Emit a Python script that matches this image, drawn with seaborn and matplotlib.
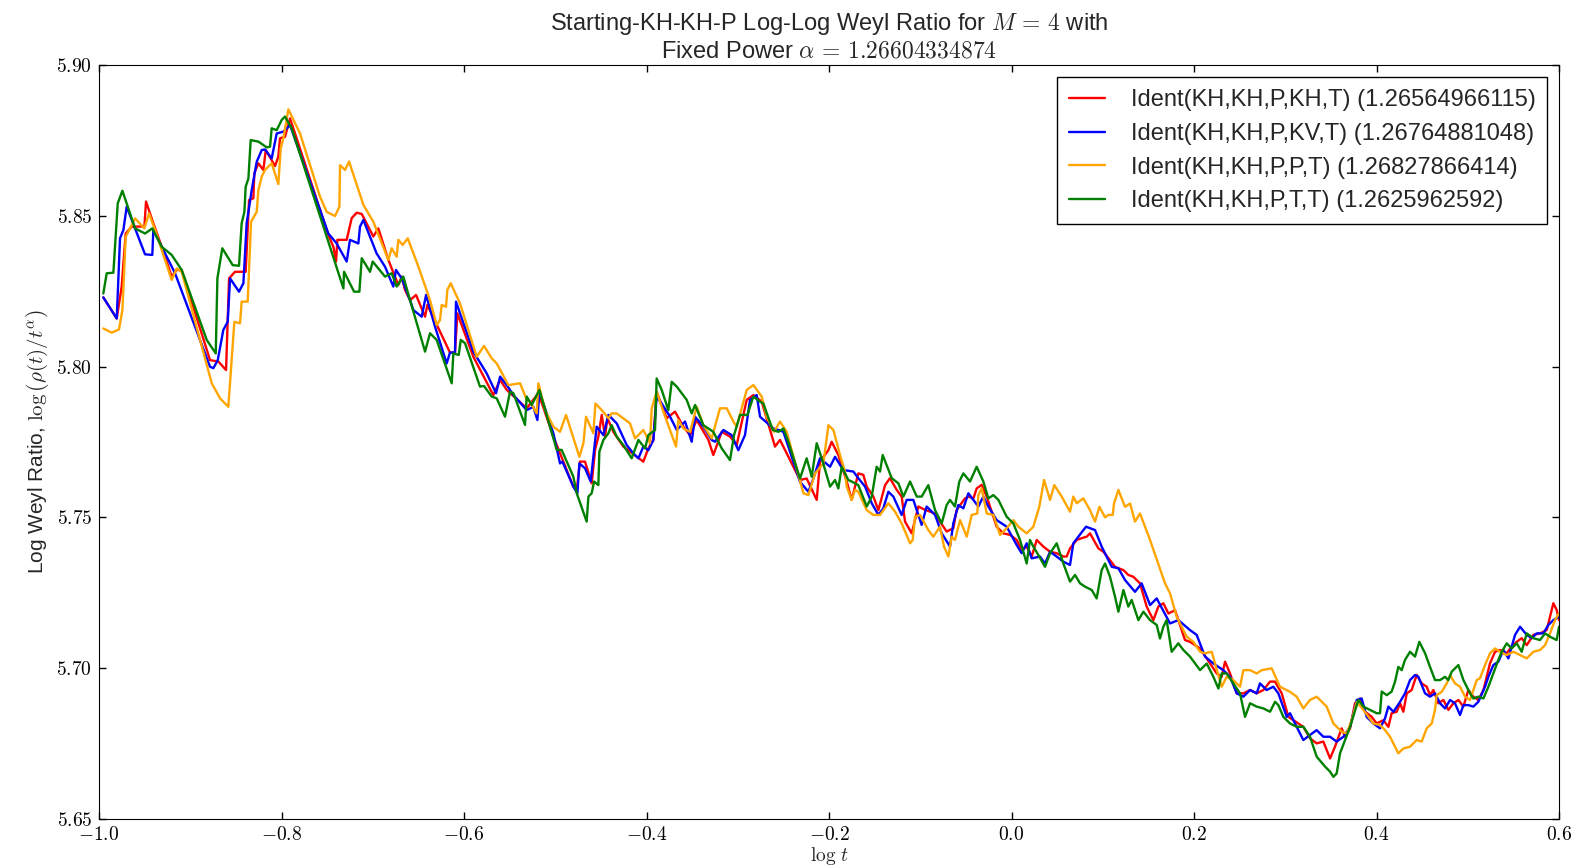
import pandas as pd
import seaborn as sns
import matplotlib.pyplot as plt
from matplotlib.ticker import FuncFormatter, MultipleLocator

# (log t, log weyl ratio), one list per identification
red_pts = [
    (-0.9953, 5.8230), (-0.9806, 5.8160), (-0.9752, 5.8266), (-0.9708, 5.8442), (-0.9642, 5.8465),
    (-0.9503, 5.8465), (-0.9485, 5.8548), (-0.9405, 5.8476), (-0.9313, 5.8398), (-0.9204, 5.8299),
    (-0.9149, 5.8321), (-0.9094, 5.8321), (-0.8784, 5.8022), (-0.8692, 5.8017), (-0.8608, 5.7989),
    (-0.8575, 5.8293), (-0.8510, 5.8315), (-0.8393, 5.8315), (-0.8356, 5.8553), (-0.8309, 5.8559),
    (-0.8298, 5.8642), (-0.8254, 5.8675), (-0.8199, 5.8653), (-0.8173, 5.8719), (-0.8071, 5.8666),
    (-0.8035, 5.8697), (-0.8017, 5.8758), (-0.7962, 5.8763), (-0.7907, 5.8824), (-0.7852, 5.8774),
    (-0.7487, 5.8437), (-0.7432, 5.8398), (-0.7403, 5.8349), (-0.7388, 5.8421), (-0.7286, 5.8421),
    (-0.7231, 5.8493), (-0.7176, 5.8511), (-0.7121, 5.8507), (-0.6994, 5.8432), (-0.6939, 5.8459),
    (-0.6829, 5.8354), (-0.6756, 5.8299), (-0.6720, 5.8271), (-0.6683, 5.8299), (-0.6647, 5.8255),
    (-0.6592, 5.8221), (-0.6526, 5.8238), (-0.6427, 5.8166), (-0.6402, 5.8205), (-0.6154, 5.8047),
    (-0.6099, 5.8047), (-0.6073, 5.8177), (-0.5898, 5.8033), (-0.5679, 5.7906), (-0.5605, 5.7956),
    (-0.5532, 5.7923), (-0.5313, 5.7862), (-0.5185, 5.7912), (-0.5021, 5.7768), (-0.4802, 5.7602),
    (-0.4765, 5.7591), (-0.4729, 5.7685), (-0.4674, 5.7685), (-0.4601, 5.7613), (-0.4564, 5.7724),
    (-0.4528, 5.7768), (-0.4491, 5.7840), (-0.4455, 5.7768), (-0.4429, 5.7829), (-0.4364, 5.7784),
    (-0.4254, 5.7735), (-0.4035, 5.7685), (-0.3980, 5.7729), (-0.3925, 5.7757), (-0.3889, 5.7917),
    (-0.3779, 5.7829), (-0.3688, 5.7851), (-0.3596, 5.7801), (-0.3523, 5.7773), (-0.3450, 5.7823),
    (-0.3322, 5.7757), (-0.3268, 5.7707), (-0.3176, 5.7784), (-0.3085, 5.7768), (-0.3012, 5.7740),
    (-0.2902, 5.7890), (-0.2829, 5.7906), (-0.2738, 5.7884), (-0.2592, 5.7735), (-0.2537, 5.7757),
    (-0.2318, 5.7624), (-0.2245, 5.7629), (-0.2135, 5.7558), (-0.2099, 5.7685), (-0.2007, 5.7723),
    (-0.1971, 5.7751), (-0.1898, 5.7707), (-0.1806, 5.7619), (-0.1752, 5.7558), (-0.1679, 5.7646),
    (-0.1624, 5.7641), (-0.1587, 5.7602), (-0.1514, 5.7569), (-0.1459, 5.7524), (-0.1386, 5.7607),
    (-0.1332, 5.7630), (-0.1258, 5.7591), (-0.1204, 5.7569), (-0.1167, 5.7486), (-0.1094, 5.7447),
    (-0.1021, 5.7536), (-0.0948, 5.7525), (-0.0838, 5.7513), (-0.0747, 5.7469), (-0.0711, 5.7453),
    (-0.0638, 5.7464), (-0.0601, 5.7525), (-0.0510, 5.7563), (-0.0473, 5.7569), (-0.0418, 5.7563),
    (-0.0382, 5.7596), (-0.0327, 5.7608), (-0.0272, 5.7569), (-0.0236, 5.7536), (-0.0163, 5.7469),
    (-0.0090, 5.7447), (-0.0016, 5.7442), (0.0057, 5.7425), (0.0111, 5.7392), (0.0166, 5.7403),
    (0.0221, 5.7370), (0.0276, 5.7425), (0.0349, 5.7403), (0.0422, 5.7386), (0.0495, 5.7381),
    (0.0568, 5.7370), (0.0604, 5.7370), (0.0641, 5.7397), (0.0714, 5.7425), (0.0769, 5.7431),
    (0.0824, 5.7436), (0.0860, 5.7447), (0.0952, 5.7397), (0.1006, 5.7386), (0.1079, 5.7358),
    (0.1134, 5.7336), (0.1226, 5.7325), (0.1280, 5.7309), (0.1335, 5.7303), (0.1408, 5.7281),
    (0.1481, 5.7204), (0.1554, 5.7159), (0.1609, 5.7204), (0.1664, 5.7215), (0.1719, 5.7181),
    (0.1792, 5.7192), (0.1901, 5.7093), (0.1956, 5.7087), (0.2066, 5.7065), (0.2139, 5.7032),
    (0.2249, 5.6982), (0.2303, 5.6971), (0.2340, 5.7021), (0.2395, 5.6982), (0.2468, 5.6916),
    (0.2541, 5.6916), (0.2614, 5.6927), (0.2687, 5.6916), (0.2760, 5.6927), (0.2833, 5.6955),
    (0.2888, 5.6955), (0.2961, 5.6916), (0.3034, 5.6838), (0.3089, 5.6827), (0.3198, 5.6805),
    (0.3271, 5.6767), (0.3344, 5.6750), (0.3417, 5.6756), (0.3491, 5.6700), (0.3545, 5.6739),
    (0.3618, 5.6800), (0.3655, 5.6772), (0.3710, 5.6800), (0.3764, 5.6883), (0.3819, 5.6899),
    (0.3874, 5.6855), (0.3947, 5.6838), (0.4002, 5.6816), (0.4075, 5.6827), (0.4130, 5.6805),
    (0.4166, 5.6850), (0.4221, 5.6855), (0.4258, 5.6883), (0.4294, 5.6855), (0.4331, 5.6916),
    (0.4385, 5.6927), (0.4440, 5.6977), (0.4495, 5.6949), (0.4550, 5.6938), (0.4586, 5.6910),
    (0.4623, 5.6927), (0.4678, 5.6883), (0.4733, 5.6894), (0.4787, 5.6861), (0.4842, 5.6883),
    (0.4897, 5.6894), (0.4952, 5.6872), (0.5006, 5.6927), (0.5061, 5.6905), (0.5116, 5.6894),
    (0.5171, 5.6927), (0.5207, 5.6971), (0.5244, 5.7016), (0.5299, 5.7054), (0.5354, 5.7060),
    (0.5427, 5.7049), (0.5481, 5.7071), (0.5536, 5.7087), (0.5591, 5.7099), (0.5646, 5.7076),
    (0.5719, 5.7110), (0.5792, 5.7115), (0.5865, 5.7126), (0.5901, 5.7170), (0.5938, 5.7215),
    (0.5974, 5.7193), (0.6000, 5.7159),
]

blue_pts = [
    (-0.9953, 5.8230), (-0.9806, 5.8160), (-0.9770, 5.8426), (-0.9733, 5.8454), (-0.9697, 5.8531),
    (-0.9496, 5.8373), (-0.9416, 5.8371), (-0.9405, 5.8454), (-0.9313, 5.8398), (-0.9167, 5.8310),
    (-0.8784, 5.8000), (-0.8747, 5.7995), (-0.8699, 5.8022), (-0.8638, 5.8122), (-0.8590, 5.8149),
    (-0.8564, 5.8293), (-0.8466, 5.8249), (-0.8418, 5.8277), (-0.8382, 5.8476), (-0.8327, 5.8586),
    (-0.8272, 5.8680), (-0.8217, 5.8719), (-0.8181, 5.8721), (-0.8108, 5.8691), (-0.8053, 5.8774),
    (-0.7980, 5.8780), (-0.7907, 5.8802), (-0.7487, 5.8442), (-0.7396, 5.8409), (-0.7286, 5.8349),
    (-0.7250, 5.8421), (-0.7158, 5.8409), (-0.7140, 5.8465), (-0.7103, 5.8487), (-0.6958, 5.8376),
    (-0.6866, 5.8332), (-0.6775, 5.8266), (-0.6746, 5.8321), (-0.6683, 5.8293), (-0.6592, 5.8221),
    (-0.6555, 5.8188), (-0.6464, 5.8166), (-0.6416, 5.8238), (-0.6318, 5.8133), (-0.6190, 5.8011),
    (-0.6154, 5.8047), (-0.6099, 5.8047), (-0.6088, 5.8216), (-0.6044, 5.8177), (-0.5898, 5.8050),
    (-0.5752, 5.7978), (-0.5649, 5.7912), (-0.5605, 5.7967), (-0.5532, 5.7939), (-0.5459, 5.7906),
    (-0.5313, 5.7856), (-0.5240, 5.7867), (-0.5196, 5.7823), (-0.5174, 5.7917), (-0.5021, 5.7779),
    (-0.4948, 5.7679), (-0.4922, 5.7685), (-0.4802, 5.7602), (-0.4758, 5.7580), (-0.4736, 5.7679),
    (-0.4674, 5.7663), (-0.4612, 5.7619), (-0.4575, 5.7723), (-0.4546, 5.7801), (-0.4473, 5.7773),
    (-0.4418, 5.7840), (-0.4327, 5.7812), (-0.4217, 5.7740), (-0.4144, 5.7712), (-0.4089, 5.7696),
    (-0.4035, 5.7735), (-0.3980, 5.7723), (-0.3925, 5.7757), (-0.3889, 5.7901), (-0.3834, 5.7878),
    (-0.3742, 5.7834), (-0.3669, 5.7790), (-0.3578, 5.7818), (-0.3505, 5.7751), (-0.3468, 5.7834),
    (-0.3377, 5.7801), (-0.3286, 5.7757), (-0.3249, 5.7751), (-0.3158, 5.7790), (-0.3067, 5.7773),
    (-0.2994, 5.7723), (-0.2921, 5.7773), (-0.2866, 5.7890), (-0.2793, 5.7906), (-0.2756, 5.7834),
    (-0.2610, 5.7795), (-0.2555, 5.7790), (-0.2500, 5.7784), (-0.2318, 5.7618), (-0.2226, 5.7585),
    (-0.2172, 5.7629), (-0.2099, 5.7696), (-0.1989, 5.7668), (-0.1934, 5.7701), (-0.1843, 5.7657),
    (-0.1733, 5.7652), (-0.1679, 5.7630), (-0.1605, 5.7602), (-0.1532, 5.7547), (-0.1459, 5.7508),
    (-0.1405, 5.7530), (-0.1350, 5.7585), (-0.1295, 5.7569), (-0.1204, 5.7508), (-0.1149, 5.7558),
    (-0.1076, 5.7558), (-0.0985, 5.7475), (-0.0930, 5.7536), (-0.0838, 5.7508), (-0.0765, 5.7447),
    (-0.0674, 5.7403), (-0.0638, 5.7480), (-0.0583, 5.7541), (-0.0528, 5.7530), (-0.0473, 5.7580),
    (-0.0418, 5.7558), (-0.0364, 5.7536), (-0.0309, 5.7569), (-0.0254, 5.7536), (-0.0163, 5.7491),
    (-0.0053, 5.7469), (0.0057, 5.7408), (0.0111, 5.7381), (0.0166, 5.7414), (0.0221, 5.7364),
    (0.0312, 5.7370), (0.0367, 5.7347), (0.0422, 5.7386), (0.0495, 5.7370), (0.0568, 5.7353),
    (0.0641, 5.7342), (0.0677, 5.7414), (0.0732, 5.7436), (0.0816, 5.7469), (0.0915, 5.7458),
    (0.0988, 5.7403), (0.1098, 5.7336), (0.1171, 5.7331), (0.1244, 5.7292), (0.1353, 5.7253),
    (0.1426, 5.7281), (0.1518, 5.7209), (0.1591, 5.7231), (0.1737, 5.7148), (0.1828, 5.7159),
    (0.1956, 5.7126), (0.2029, 5.7110), (0.2121, 5.7038), (0.2212, 5.7015), (0.2321, 5.6993),
    (0.2395, 5.6971), (0.2468, 5.6916), (0.2541, 5.6905), (0.2614, 5.6927), (0.2687, 5.6916),
    (0.2723, 5.6949), (0.2796, 5.6927), (0.2869, 5.6938), (0.2924, 5.6916), (0.3016, 5.6838),
    (0.3052, 5.6850), (0.3125, 5.6805), (0.3198, 5.6761), (0.3271, 5.6778), (0.3344, 5.6794),
    (0.3417, 5.6772), (0.3491, 5.6772), (0.3563, 5.6756), (0.3637, 5.6772), (0.3710, 5.6805),
    (0.3783, 5.6894), (0.3837, 5.6899), (0.3892, 5.6838), (0.3965, 5.6816), (0.4038, 5.6800),
    (0.4093, 5.6833), (0.4130, 5.6872), (0.4185, 5.6855), (0.4258, 5.6888), (0.4312, 5.6916),
    (0.4367, 5.6960), (0.4422, 5.6977), (0.4459, 5.6971), (0.4532, 5.6916), (0.4586, 5.6905),
    (0.4641, 5.6916), (0.4696, 5.6883), (0.4751, 5.6866), (0.4806, 5.6894), (0.4860, 5.6883),
    (0.4915, 5.6844), (0.4952, 5.6877), (0.5006, 5.6877), (0.5061, 5.6872), (0.5116, 5.6888),
    (0.5189, 5.6938), (0.5226, 5.6971), (0.5280, 5.7010), (0.5335, 5.7021), (0.5390, 5.7060),
    (0.5445, 5.7032), (0.5518, 5.7110), (0.5573, 5.7137), (0.5646, 5.7110), (0.5701, 5.7099),
    (0.5755, 5.7115), (0.5828, 5.7115), (0.5883, 5.7143), (0.5938, 5.7159), (0.6000, 5.7170),
]

orange_pts = [
    (-0.9953, 5.8127), (-0.9861, 5.8113), (-0.9781, 5.8124), (-0.9744, 5.8188), (-0.9708, 5.8431),
    (-0.9605, 5.8492), (-0.9503, 5.8459), (-0.9452, 5.8509), (-0.9386, 5.8454), (-0.9204, 5.8288),
    (-0.9149, 5.8326), (-0.9094, 5.8315), (-0.8765, 5.7945), (-0.8674, 5.7895), (-0.8583, 5.7867),
    (-0.8517, 5.8149), (-0.8455, 5.8144), (-0.8437, 5.8216), (-0.8371, 5.8216), (-0.8334, 5.8481),
    (-0.8272, 5.8514), (-0.8254, 5.8586), (-0.8217, 5.8631), (-0.8181, 5.8653), (-0.8108, 5.8675),
    (-0.8035, 5.8606), (-0.8009, 5.8725), (-0.7980, 5.8758), (-0.7925, 5.8854), (-0.7797, 5.8774),
    (-0.7578, 5.8564), (-0.7505, 5.8514), (-0.7414, 5.8500), (-0.7366, 5.8531), (-0.7359, 5.8669),
    (-0.7304, 5.8653), (-0.7260, 5.8681), (-0.7103, 5.8537), (-0.6994, 5.8481), (-0.6829, 5.8354),
    (-0.6793, 5.8393), (-0.6738, 5.8365), (-0.6720, 5.8421), (-0.6672, 5.8404), (-0.6617, 5.8426),
    (-0.6500, 5.8332), (-0.6373, 5.8221), (-0.6300, 5.8138), (-0.6263, 5.8155), (-0.6245, 5.8205),
    (-0.6197, 5.8199), (-0.6183, 5.8255), (-0.6146, 5.8277), (-0.6044, 5.8210), (-0.5861, 5.8033),
    (-0.5781, 5.8069), (-0.5697, 5.8028), (-0.5642, 5.8011), (-0.5514, 5.7939), (-0.5386, 5.7945),
    (-0.5313, 5.7890), (-0.5277, 5.7884), (-0.5204, 5.7845), (-0.5185, 5.7945), (-0.5112, 5.7856),
    (-0.5021, 5.7801), (-0.4948, 5.7784), (-0.4882, 5.7840), (-0.4736, 5.7701), (-0.4692, 5.7746),
    (-0.4663, 5.7834), (-0.4583, 5.7779), (-0.4560, 5.7878), (-0.4491, 5.7856), (-0.4418, 5.7829),
    (-0.4382, 5.7845), (-0.4327, 5.7845), (-0.4181, 5.7812), (-0.4126, 5.7762), (-0.4035, 5.7790),
    (-0.3962, 5.7746), (-0.3943, 5.7862), (-0.3889, 5.7917), (-0.3816, 5.7851), (-0.3677, 5.7735),
    (-0.3651, 5.7823), (-0.3596, 5.7795), (-0.3523, 5.7784), (-0.3450, 5.7867), (-0.3377, 5.7806),
    (-0.3286, 5.7762), (-0.3195, 5.7862), (-0.3121, 5.7862), (-0.3048, 5.7818), (-0.3012, 5.7801),
    (-0.2902, 5.7923), (-0.2829, 5.7939), (-0.2738, 5.7901), (-0.2683, 5.7834), (-0.2603, 5.7784),
    (-0.2537, 5.7818), (-0.2464, 5.7784), (-0.2281, 5.7580), (-0.2226, 5.7574), (-0.2153, 5.7646),
    (-0.2062, 5.7679), (-0.2007, 5.7806), (-0.1952, 5.7790), (-0.1880, 5.7707), (-0.1825, 5.7652),
    (-0.1806, 5.7602), (-0.1752, 5.7558), (-0.1715, 5.7591), (-0.1679, 5.7585), (-0.1587, 5.7524),
    (-0.1514, 5.7508), (-0.1441, 5.7508), (-0.1350, 5.7547), (-0.1277, 5.7519), (-0.1204, 5.7480),
    (-0.1112, 5.7414), (-0.1083, 5.7425), (-0.1058, 5.7502), (-0.1003, 5.7508), (-0.0912, 5.7458),
    (-0.0857, 5.7436), (-0.0784, 5.7469), (-0.0740, 5.7403), (-0.0692, 5.7370), (-0.0656, 5.7436),
    (-0.0620, 5.7425), (-0.0564, 5.7491), (-0.0491, 5.7436), (-0.0437, 5.7508), (-0.0375, 5.7513),
    (-0.0364, 5.7574), (-0.0327, 5.7596), (-0.0272, 5.7513), (-0.0199, 5.7508), (-0.0126, 5.7442),
    (-0.0053, 5.7464), (0.0020, 5.7491), (0.0075, 5.7469), (0.0166, 5.7447), (0.0239, 5.7469),
    (0.0305, 5.7536), (0.0356, 5.7624), (0.0422, 5.7558), (0.0469, 5.7607), (0.0550, 5.7569),
    (0.0641, 5.7519), (0.0677, 5.7569), (0.0714, 5.7547), (0.0787, 5.7563), (0.0860, 5.7524),
    (0.0915, 5.7486), (0.0963, 5.7535), (0.1025, 5.7500), (0.1061, 5.7508), (0.1109, 5.7508),
    (0.1123, 5.7546), (0.1171, 5.7591), (0.1244, 5.7535), (0.1299, 5.7546), (0.1353, 5.7486),
    (0.1408, 5.7513), (0.1518, 5.7425), (0.1682, 5.7281), (0.1737, 5.7248), (0.1810, 5.7170),
    (0.1920, 5.7104), (0.1993, 5.7087), (0.2066, 5.7054), (0.2121, 5.7049), (0.2194, 5.7054),
    (0.2230, 5.7015), (0.2303, 5.6938), (0.2358, 5.6971), (0.2431, 5.6960), (0.2504, 5.6938),
    (0.2541, 5.6993), (0.2614, 5.6993), (0.2687, 5.6982), (0.2742, 5.6993), (0.2851, 5.6999),
    (0.2942, 5.6938), (0.3052, 5.6921), (0.3125, 5.6905), (0.3198, 5.6866), (0.3271, 5.6894),
    (0.3344, 5.6905), (0.3417, 5.6883), (0.3454, 5.6872), (0.3527, 5.6816), (0.3618, 5.6789),
    (0.3673, 5.6783), (0.3728, 5.6827), (0.3783, 5.6888), (0.3856, 5.6861), (0.3911, 5.6838),
    (0.3965, 5.6816), (0.4038, 5.6811), (0.4093, 5.6794), (0.4148, 5.6772), (0.4239, 5.6717),
    (0.4294, 5.6733), (0.4367, 5.6739), (0.4440, 5.6761), (0.4495, 5.6756), (0.4550, 5.6800),
    (0.4605, 5.6816), (0.4641, 5.6861), (0.4659, 5.6910), (0.4714, 5.6921), (0.4769, 5.6949),
    (0.4806, 5.6977), (0.4860, 5.6949), (0.4915, 5.6938), (0.4970, 5.6905), (0.5025, 5.6894),
    (0.5098, 5.6960), (0.5134, 5.6966), (0.5189, 5.7010), (0.5244, 5.7049), (0.5299, 5.7065),
    (0.5354, 5.7054), (0.5427, 5.7043), (0.5500, 5.7054), (0.5573, 5.7043), (0.5646, 5.7032),
    (0.5719, 5.7054), (0.5792, 5.7060), (0.5847, 5.7076), (0.5901, 5.7115), (0.5956, 5.7159),
    (0.6000, 5.7182),
]

green_pts = [
    (-0.9953, 5.8243), (-0.9916, 5.8310), (-0.9843, 5.8312), (-0.9795, 5.8542), (-0.9744, 5.8584),
    (-0.9605, 5.8459), (-0.9496, 5.8442), (-0.9416, 5.8459), (-0.9313, 5.8398), (-0.9204, 5.8371),
    (-0.9094, 5.8321), (-0.8820, 5.8089), (-0.8721, 5.8044), (-0.8703, 5.8293), (-0.8649, 5.8393),
    (-0.8535, 5.8337), (-0.8466, 5.8335), (-0.8437, 5.8476), (-0.8407, 5.8514), (-0.8393, 5.8597),
    (-0.8363, 5.8625), (-0.8338, 5.8752), (-0.8254, 5.8747), (-0.8163, 5.8728), (-0.8126, 5.8730),
    (-0.8108, 5.8791), (-0.8053, 5.8785), (-0.7998, 5.8819), (-0.7962, 5.8830), (-0.7889, 5.8791),
    (-0.7322, 5.8260), (-0.7315, 5.8315), (-0.7205, 5.8249), (-0.7147, 5.8249), (-0.7121, 5.8360),
    (-0.7030, 5.8315), (-0.7001, 5.8349), (-0.6866, 5.8299), (-0.6793, 5.8310), (-0.6738, 5.8266),
    (-0.6665, 5.8299), (-0.6592, 5.8221), (-0.6427, 5.8050), (-0.6373, 5.8111), (-0.6300, 5.8089),
    (-0.6135, 5.7945), (-0.6117, 5.8044), (-0.6058, 5.8039), (-0.6036, 5.8089), (-0.5989, 5.8078),
    (-0.5825, 5.7934), (-0.5781, 5.7936), (-0.5697, 5.7901), (-0.5642, 5.7895), (-0.5551, 5.7834),
    (-0.5496, 5.7917), (-0.5459, 5.7912), (-0.5332, 5.7807), (-0.5313, 5.7901), (-0.5258, 5.7873),
    (-0.5174, 5.7923), (-0.4984, 5.7724), (-0.4930, 5.7724), (-0.4802, 5.7635), (-0.4765, 5.7580),
    (-0.4656, 5.7486), (-0.4637, 5.7569), (-0.4601, 5.7580), (-0.4575, 5.7619), (-0.4528, 5.7607),
    (-0.4517, 5.7718), (-0.4473, 5.7757), (-0.4418, 5.7779), (-0.4382, 5.7806), (-0.4327, 5.7768),
    (-0.4254, 5.7740), (-0.4163, 5.7696), (-0.4089, 5.7757), (-0.4016, 5.7729), (-0.3980, 5.7773),
    (-0.3907, 5.7790), (-0.3889, 5.7961), (-0.3834, 5.7923), (-0.3761, 5.7856), (-0.3724, 5.7950),
    (-0.3669, 5.7934), (-0.3560, 5.7890), (-0.3505, 5.7845), (-0.3468, 5.7873), (-0.3377, 5.7806),
    (-0.3268, 5.7784), (-0.3176, 5.7729), (-0.3085, 5.7690), (-0.3041, 5.7773), (-0.2975, 5.7840),
    (-0.2895, 5.7840), (-0.2829, 5.7901), (-0.2756, 5.7884), (-0.2720, 5.7878), (-0.2617, 5.7790),
    (-0.2555, 5.7784), (-0.2500, 5.7795), (-0.2446, 5.7751), (-0.2318, 5.7629), (-0.2245, 5.7696),
    (-0.2190, 5.7635), (-0.2135, 5.7746), (-0.2080, 5.7696), (-0.1989, 5.7602), (-0.1934, 5.7624),
    (-0.1898, 5.7596), (-0.1861, 5.7668), (-0.1788, 5.7624), (-0.1752, 5.7619), (-0.1679, 5.7607),
    (-0.1587, 5.7536), (-0.1532, 5.7569), (-0.1478, 5.7668), (-0.1441, 5.7652), (-0.1412, 5.7707),
    (-0.1313, 5.7630), (-0.1240, 5.7613), (-0.1185, 5.7569), (-0.1112, 5.7619), (-0.1039, 5.7569),
    (-0.0985, 5.7569), (-0.0912, 5.7607), (-0.0838, 5.7524), (-0.0765, 5.7480), (-0.0711, 5.7541),
    (-0.0674, 5.7558), (-0.0620, 5.7536), (-0.0572, 5.7619), (-0.0528, 5.7646), (-0.0455, 5.7619),
    (-0.0382, 5.7668), (-0.0309, 5.7619), (-0.0254, 5.7563), (-0.0199, 5.7574), (-0.0144, 5.7558),
    (-0.0053, 5.7502), (0.0020, 5.7480), (0.0093, 5.7425), (0.0166, 5.7347), (0.0202, 5.7425),
    (0.0239, 5.7403), (0.0294, 5.7375), (0.0367, 5.7336), (0.0422, 5.7381), (0.0495, 5.7414),
    (0.0568, 5.7347), (0.0641, 5.7287), (0.0696, 5.7309), (0.0751, 5.7281), (0.0806, 5.7270),
    (0.0879, 5.7259), (0.0933, 5.7231), (0.0988, 5.7325), (0.1025, 5.7347), (0.1079, 5.7303),
    (0.1134, 5.7237), (0.1171, 5.7187), (0.1226, 5.7259), (0.1280, 5.7204), (0.1317, 5.7226),
    (0.1390, 5.7159), (0.1445, 5.7187), (0.1518, 5.7159), (0.1591, 5.7143), (0.1627, 5.7098),
    (0.1664, 5.7137), (0.1700, 5.7159), (0.1755, 5.7054), (0.1828, 5.7082), (0.1883, 5.7060),
    (0.1956, 5.7038), (0.2066, 5.6993), (0.2139, 5.7015), (0.2212, 5.6971), (0.2267, 5.6932),
    (0.2303, 5.6982), (0.2358, 5.6982), (0.2431, 5.6949), (0.2504, 5.6916), (0.2559, 5.6838),
    (0.2614, 5.6883), (0.2687, 5.6872), (0.2760, 5.6866), (0.2833, 5.6855), (0.2888, 5.6888),
    (0.2924, 5.6877), (0.2979, 5.6838), (0.3052, 5.6816), (0.3125, 5.6805), (0.3198, 5.6805),
    (0.3271, 5.6772), (0.3344, 5.6706), (0.3436, 5.6673), (0.3491, 5.6656), (0.3527, 5.6639),
    (0.3563, 5.6650), (0.3600, 5.6717), (0.3655, 5.6761), (0.3710, 5.6805), (0.3801, 5.6894),
    (0.3856, 5.6872), (0.3929, 5.6861), (0.4002, 5.6850), (0.4038, 5.6850), (0.4057, 5.6922),
    (0.4112, 5.6910), (0.4166, 5.6922), (0.4203, 5.6955), (0.4239, 5.7004), (0.4276, 5.6993),
    (0.4312, 5.7027), (0.4367, 5.7054), (0.4422, 5.7038), (0.4469, 5.7087), (0.4532, 5.7049),
    (0.4586, 5.7004), (0.4641, 5.6960), (0.4696, 5.6960), (0.4751, 5.6971), (0.4787, 5.6960),
    (0.4824, 5.6988), (0.4897, 5.7010), (0.4952, 5.6960), (0.5025, 5.6916), (0.5061, 5.6899),
    (0.5116, 5.6905), (0.5171, 5.6899), (0.5226, 5.6938), (0.5280, 5.6982), (0.5335, 5.7027),
    (0.5372, 5.7054), (0.5427, 5.7082), (0.5481, 5.7065), (0.5536, 5.7082), (0.5591, 5.7054),
    (0.5646, 5.7115), (0.5719, 5.7099), (0.5792, 5.7093), (0.5847, 5.7115), (0.5901, 5.7104),
    (0.5974, 5.7093), (0.6000, 5.7137),
]

labels = ['Ident(KH,KH,P,KH,T) (1.26564966115)',
          'Ident(KH,KH,P,KV,T) (1.26764881048)',
          'Ident(KH,KH,P,P,T) (1.26827866414)',
          'Ident(KH,KH,P,T,T) (1.2625962592)']
colors = ['#ff0000', '#0000ff', '#ffa500', '#008000']

frames = []
for lab, pts in zip(labels, [red_pts, blue_pts, orange_pts, green_pts]):
    xs, ys = zip(*pts)
    frames.append(pd.DataFrame({'log_t': xs, 'ratio': ys, 'series': lab}))
df = pd.concat(frames, ignore_index=True)

sns.set_style('white', rc={'axes.edgecolor': 'black', 'axes.linewidth': 1.0,
                           'xtick.direction': 'in', 'ytick.direction': 'in',
                           'xtick.top': True, 'ytick.right': True,
                           'xtick.bottom': True, 'ytick.left': True,
                           'xtick.color': 'black', 'ytick.color': 'black'})
plt.rcParams['font.family'] = ['Liberation Sans', 'DejaVu Sans']
plt.rcParams['mathtext.fontset'] = 'cm'

fig, ax = plt.subplots(figsize=(15.77, 8.67), dpi=100)
fig.subplots_adjust(left=0.0628, right=0.9886, bottom=0.0557, top=0.9246)

sns.lineplot(data=df, x='log_t', y='ratio', hue='series', palette=colors,
             sort=False, estimator=None, linewidth=1.7, ax=ax)

ax.set_xlim(-1.0, 0.6)
ax.set_ylim(5.65, 5.90)
ax.xaxis.set_major_locator(MultipleLocator(0.2))
ax.yaxis.set_major_locator(MultipleLocator(0.05))
ax.xaxis.set_major_formatter(FuncFormatter(lambda v, p: r'$%.1f$' % v))
ax.yaxis.set_major_formatter(FuncFormatter(lambda v, p: r'$%.2f$' % v))
ax.tick_params(axis='both', which='major', length=5, width=1, labelsize=14, pad=5)

ax.set_xlabel(r'$\log\,t$', fontsize=14, labelpad=1)
ax.set_ylabel(r'Log Weyl Ratio, $\log\left(\rho(t)/t^\alpha\right)$', fontsize=15, labelpad=4)
ax.set_title('Starting-KH-KH-P Log-Log Weyl Ratio for $M\\,=\\,4$ with\n'
             r'Fixed Power $\alpha\,=\,1.26604334874$', fontsize=17, pad=6)

sns.move_legend(ax, 'upper right', title=None, frameon=True, fancybox=False,
                edgecolor='black', framealpha=1, fontsize=17, handlelength=1.5,
                handletextpad=1.1, labelspacing=0.5, borderpad=0.5)
ax.get_legend().get_frame().set_linewidth(1.0)

plt.savefig('out.png', dpi=100)
